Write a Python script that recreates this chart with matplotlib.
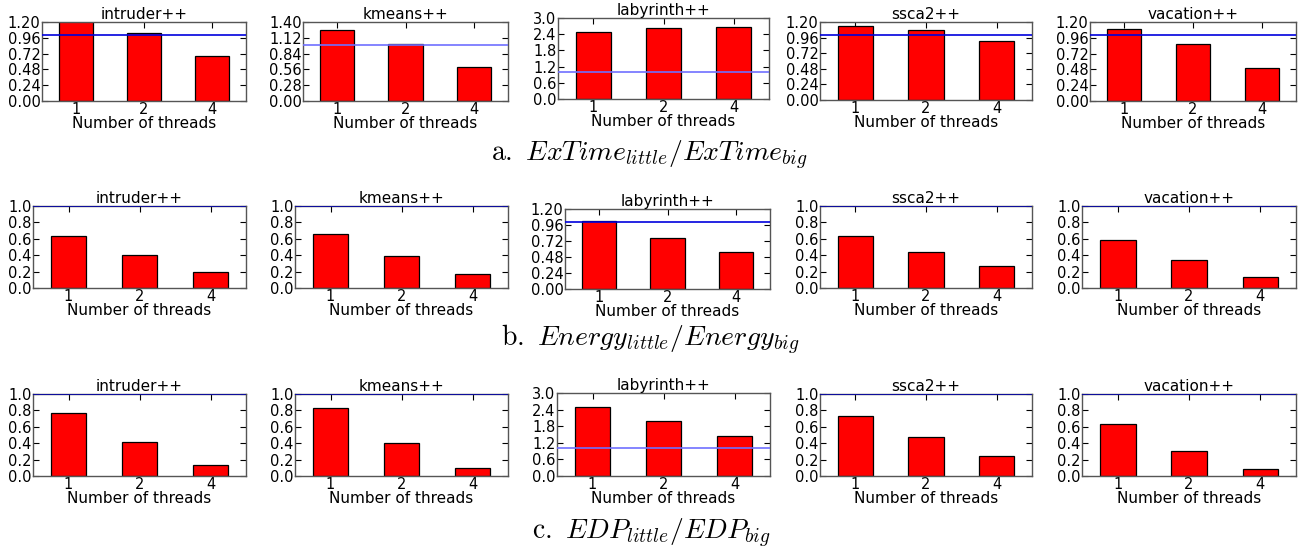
import matplotlib
matplotlib.use("Agg")
import matplotlib.pyplot as plt
import numpy as np

plt.rcParams['mathtext.fontset'] = 'cm'
plt.rcParams['font.family'] = 'DejaVu Sans'

threads = ["1", "2", "4"]
benchmarks = ["intruder++", "kmeans++", "labyrinth++", "ssca2++", "vacation++"]

extime = {
    "intruder++": [1.21, 1.04, 0.68],
    "kmeans++": [1.26, 1.01, 0.60],
    "labyrinth++": [2.47, 2.62, 2.68],
    "ssca2++": [1.14, 1.08, 0.91],
    "vacation++": [1.09, 0.87, 0.50],
}
energy = {
    "intruder++": [0.64, 0.40, 0.19],
    "kmeans++": [0.66, 0.39, 0.17],
    "labyrinth++": [1.02, 0.77, 0.55],
    "ssca2++": [0.64, 0.44, 0.27],
    "vacation++": [0.58, 0.34, 0.14],
}
edp = {
    "intruder++": [0.77, 0.42, 0.13],
    "kmeans++": [0.83, 0.40, 0.10],
    "labyrinth++": [2.49, 2.00, 1.46],
    "ssca2++": [0.73, 0.48, 0.25],
    "vacation++": [0.64, 0.30, 0.08],
}

# y-axis settings per row: (ymax, step, decimals)
row_a_axes = {
    "intruder++": (1.20, 0.24, 2), "kmeans++": (1.40, 0.28, 2),
    "labyrinth++": (3.0, 0.6, 1), "ssca2++": (1.20, 0.24, 2),
    "vacation++": (1.20, 0.24, 2),
}
row_b_axes = {
    "intruder++": (1.0, 0.2, 1), "kmeans++": (1.0, 0.2, 1),
    "labyrinth++": (1.20, 0.24, 2), "ssca2++": (1.0, 0.2, 1),
    "vacation++": (1.0, 0.2, 1),
}
row_c_axes = {
    "intruder++": (1.0, 0.2, 1), "kmeans++": (1.0, 0.2, 1),
    "labyrinth++": (3.0, 0.6, 1), "ssca2++": (1.0, 0.2, 1),
    "vacation++": (1.0, 0.2, 1),
}

W, H = 1302, 550
fig = plt.figure(figsize=(W / 100, H / 100), dpi=100)

# pixel boxes (left, right, top, bottom)
boxes_a = [(42, 246, 22, 101), (303, 508, 22, 101), (558, 769, 18, 99),
           (820, 1032, 22, 100), (1090, 1296, 22, 101)]
boxes_b = [(33, 246, 206, 288), (295, 508, 206, 288), (565, 770, 209, 289),
           (820, 1032, 206, 288), (1082, 1296, 206, 288)]
boxes_c = [(33, 246, 394, 476), (295, 508, 394, 476), (557, 770, 393, 476),
           (820, 1032, 394, 476), (1082, 1296, 394, 476)]

light = '#6f6fff'
line_colors_a = ['#0000dd', light, light, '#0000dd', '#0000dd']
line_colors_b = ['#0000aa', '#0000aa', '#0000dd', '#0000aa', '#0000aa']
line_colors_c = ['#0000aa', '#0000aa', light, '#0000aa', '#0000aa']

def draw(box, name, vals, yax, lc):
    l, r, t, b = box
    ax = fig.add_axes([l / W, 1 - b / H, (r - l) / W, (b - t) / H])
    x = np.arange(len(threads))
    ax.bar(x, vals, width=0.5, color='red', edgecolor='black', linewidth=0.9, zorder=2)
    ax.axhline(1.0, color=lc, linewidth=1.2, zorder=3)
    ymax, step, dec = yax
    ax.set_ylim(0, ymax)
    ax.set_xlim(-0.5, 2.5)
    ticks = np.arange(0, ymax + step / 2, step)
    ax.set_yticks(ticks)
    ax.set_yticklabels([f"{v:.{dec}f}" for v in ticks])
    ax.set_xticks(x)
    ax.set_xticklabels(threads)
    ax.tick_params(direction='in', length=4, width=0.8, top=True, right=True,
                   labelsize=10.5, pad=1, colors='black')
    for s in ax.spines.values():
        s.set_color('#555555')
        s.set_linewidth(1.0)
    ax.set_title(name, fontsize=11, pad=2)
    ax.set_xlabel("Number of threads", fontsize=11, labelpad=-1)
    return ax

for i, name in enumerate(benchmarks):
    draw(boxes_a[i], name, extime[name], row_a_axes[name], line_colors_a[i])
    draw(boxes_b[i], name, energy[name], row_b_axes[name], line_colors_b[i])
    draw(boxes_c[i], name, edp[name], row_c_axes[name], line_colors_c[i])

cap_kw = dict(ha='center', va='center', fontsize=20)
fig.text(649 / W, 1 - 155 / H, r"$\mathrm{a.}\ ExTime_{little}/ExTime_{big}$", **cap_kw)
fig.text(650 / W, 1 - 340 / H, r"$\mathrm{b.}\ Energy_{little}/Energy_{big}$", **cap_kw)
fig.text(651 / W, 1 - 533 / H, r"$\mathrm{c.}\ EDP_{little}/EDP_{big}$", **cap_kw)

fig.savefig("out.png", dpi=100)
